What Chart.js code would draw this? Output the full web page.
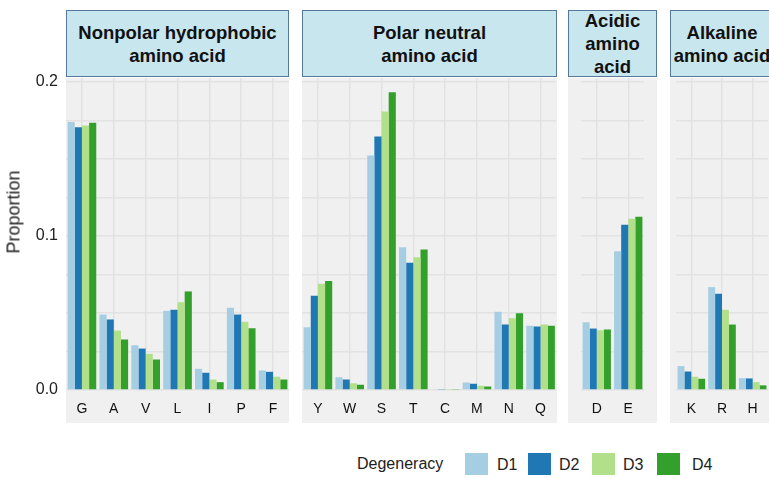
<!DOCTYPE html>
<html>
<head>
<meta charset="utf-8">
<script src="https://cdn.jsdelivr.net/npm/chart.js@4.4.1/dist/chart.umd.min.js"></script>
<style>
html,body{margin:0;padding:0;background:#fff;}
#root{position:relative;width:769px;height:478px;overflow:hidden;font-family:"Liberation Sans",Arial,sans-serif;}
.panel{position:absolute;top:78px;height:345px;background:#f0f0f0;}
.strip{position:absolute;top:10px;height:67px;box-sizing:border-box;border:1.5px solid #56789a;background:#c8e6ee;display:flex;align-items:center;justify-content:center;text-align:center;font-weight:bold;font-size:18.5px;line-height:23px;color:#111;white-space:pre;}
canvas{position:absolute;top:60px;}
.ytitle{position:absolute;left:14px;top:212px;transform:translate(-50%,-50%) rotate(-90deg);font-size:18px;color:#222;white-space:nowrap;}
.leg{position:absolute;font-size:16px;color:#222;line-height:20px;}
.sw{position:absolute;width:23px;height:22px;}
</style>
</head>
<body>
<div id="root"></div>
<script>
// ---- data ----
const aminoAcids = ['G','A','V','L','I','P','F','Y','W','S','T','C','M','N','Q','D','E','K','R','H'];
const groupNames = ['Nonpolar hydrophobic\namino acid', 'Polar neutral\namino acid', 'Acidic\namino\nacid', 'Alkaline\namino acid'];
const groupSizes = [7, 8, 2, 3];
const seriesNames = ['D1', 'D2', 'D3', 'D4'];
const seriesColors = ['#a6cee3', '#1f78b4', '#b2df8a', '#33a02c'];
const d1 = [0.1740, 0.0490, 0.0291, 0.0514, 0.0138, 0.0534, 0.0127, 0.0408, 0.0083, 0.1523, 0.0927, 0.0005, 0.0049, 0.0508, 0.0417, 0.0440, 0.0901, 0.0155, 0.0668, 0.0077];
const d2 = [0.1706, 0.0458, 0.0269, 0.0521, 0.0112, 0.0490, 0.0118, 0.0612, 0.0068, 0.1646, 0.0826, 0.0004, 0.0040, 0.0425, 0.0412, 0.0399, 0.1073, 0.0120, 0.0625, 0.0075];
const d3 = [0.1717, 0.0386, 0.0235, 0.0570, 0.0068, 0.0443, 0.0086, 0.0690, 0.0044, 0.1808, 0.0862, 0.0003, 0.0027, 0.0466, 0.0425, 0.0388, 0.1112, 0.0086, 0.0521, 0.0051];
const d4 = [0.1736, 0.0328, 0.0198, 0.0640, 0.0051, 0.0401, 0.0068, 0.0707, 0.0034, 0.1934, 0.0912, 0.0003, 0.0023, 0.0499, 0.0417, 0.0393, 0.1125, 0.0073, 0.0425, 0.0030];
const yTickLabels = ['0.0', '0.1', '0.2'];
const yAxisTitle = 'Proportion';
const legendTitle = 'Degeneracy';

// ---- layout (positions only) ----
const panelBoxes = [
  {canvasLeft: 0,   canvasWidth: 289, bgLeft: 66,  bgWidth: 223, padL: 0,  padR: 0,  yWidth: 66},
  {canvasLeft: 302, canvasWidth: 255, bgLeft: 302, bgWidth: 255, padL: 0,  padR: 0,  yWidth: 0},
  {canvasLeft: 568, canvasWidth: 89,  bgLeft: 568, bgWidth: 89,  padL: 13, padR: 13, yWidth: 0},
  {canvasLeft: 670, canvasWidth: 104, bgLeft: 670, bgWidth: 104, padL: 6,  padR: 6,  yWidth: 0}
];
const series = [d1, d2, d3, d4];
const root = document.getElementById('root');
const Y_MIN = 0, Y_MAX = 0.2026;

let start = 0;
panelBoxes.forEach((box, p) => {
  const n = groupSizes[p];
  const cats = aminoAcids.slice(start, start + n);
  const sets = series.map((s, i) => ({
    label: seriesNames[i],
    data: s.slice(start, start + n),
    backgroundColor: seriesColors[i],
    borderWidth: 0,
    categoryPercentage: 0.9,
    barPercentage: 1.0
  }));
  start += n;

  const bg = document.createElement('div');
  bg.className = 'panel';
  bg.style.left = box.bgLeft + 'px';
  bg.style.width = box.bgWidth + 'px';
  root.appendChild(bg);

  const strip = document.createElement('div');
  strip.className = 'strip';
  strip.style.left = box.bgLeft + 'px';
  strip.style.width = box.bgWidth + 'px';
  strip.textContent = groupNames[p];
  root.appendChild(strip);

  const cv = document.createElement('canvas');
  cv.width = box.canvasWidth; cv.height = 363;
  cv.style.left = box.canvasLeft + 'px';
  cv.style.width = box.canvasWidth + 'px'; cv.style.height = '363px';
  root.appendChild(cv);

  const showY = box.yWidth > 0;
  new Chart(cv.getContext('2d'), {
    type: 'bar',
    data: {labels: cats, datasets: sets},
    options: {
      responsive: false, animation: false, devicePixelRatio: 1,
      layout: {padding: {top: 18, bottom: 0, left: box.padL, right: box.padR}},
      plugins: {legend: {display: false}, tooltip: {enabled: false}},
      scales: {
        x: {
          type: 'category', offset: true,
          grid: {offset: false, color: '#e2e2e2', lineWidth: 1.5, drawTicks: false},
          border: {display: false},
          ticks: {color: '#111', font: {size: 14, family: '"Liberation Sans", Arial, sans-serif'}, padding: 11, maxRotation: 0, autoSkip: false},
          afterFit: (s) => { s.height = 33; }
        },
        y: {
          type: 'linear', min: Y_MIN, max: Y_MAX,
          grid: {color: '#e2e2e2', lineWidth: 1.5, drawTicks: false},
          border: {display: false},
          ticks: {
            display: showY, stepSize: 0.025, includeBounds: false,
            color: '#222', padding: 8,
            font: {size: 16, family: '"Liberation Sans", Arial, sans-serif'},
            callback: (v) => {
              const k = Math.round(v * 10);
              return Math.abs(v * 10 - k) < 1e-6 && yTickLabels[k] !== undefined ? yTickLabels[k] : '';
            }
          },
          afterFit: (s) => { s.width = box.yWidth; }
        }
      }
    }
  });
});

// y-axis title
const yt = document.createElement('div');
yt.className = 'ytitle';
yt.textContent = yAxisTitle;
root.appendChild(yt);

// legend
const legT = document.createElement('div');
legT.className = 'leg';
legT.style.left = '357px'; legT.style.top = '454px';
legT.textContent = legendTitle;
root.appendChild(legT);
const swX = [465, 528, 592, 657];
const txX = [497, 559, 623, 692];
seriesNames.forEach((name, i) => {
  const sw = document.createElement('div');
  sw.className = 'sw';
  sw.style.left = swX[i] + 'px'; sw.style.top = '453px';
  sw.style.background = seriesColors[i];
  root.appendChild(sw);
  const t = document.createElement('div');
  t.className = 'leg';
  t.style.left = txX[i] + 'px'; t.style.top = '455px';
  t.textContent = name;
  root.appendChild(t);
});
</script>
</body>
</html>
